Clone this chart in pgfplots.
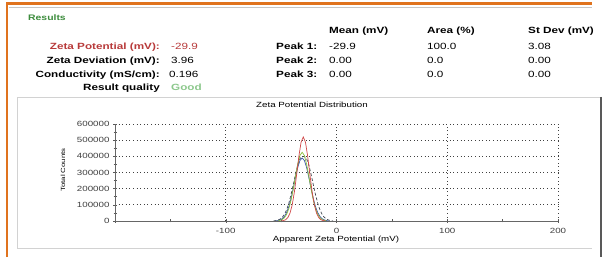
\documentclass[border=0pt]{standalone}
\usepackage{fontspec}
\setmainfont{Liberation Sans}[FakeStretch=1.3]
\usepackage{pgfplots}
\pgfplotsset{compat=1.18}
\definecolor{orng}{HTML}{E0731E}
\definecolor{resgreen}{HTML}{3C8C3C}
\definecolor{zred}{HTML}{B83A3A}
\definecolor{goodgreen}{HTML}{8CC88C}
\definecolor{cred}{HTML}{D04848}
\definecolor{cgreen}{HTML}{8CBE3C}
\definecolor{cblue}{HTML}{3A56A8}
\definecolor{cdark}{HTML}{404850}
\begin{document}
\begin{tikzpicture}[x=1pt,y=1pt]
\useasboundingbox (0,0) rectangle (613,257);
\fill[white] (0,0) rectangle (613,257);
% frame
\draw[orng, line width=2.6pt] (7,0) -- (7,253.5) -- (592,253.5);
\draw[gray!45, line width=0.9pt] (9,249.5) -- (592,249.5);
\draw[gray!35, line width=0.6pt] (17,9) -- (17,160) -- (601,160);
\draw[gray!35, line width=0.6pt] (17,9) -- (592,9);
\draw[gray!70!black, line width=1.1pt] (601,160) -- (601,0);
% header
\newcommand\hf{\fontsize{9}{11}\selectfont}
\node[anchor=base west, font=\fontsize{8}{10}\selectfont\bfseries, text=resgreen, inner sep=0] at (28,236.5) {Results};
\node[anchor=base west, font=\hf\bfseries, inner sep=0] at (329,223.5) {Mean (mV)};
\node[anchor=base west, font=\hf\bfseries, inner sep=0] at (427,223.5) {Area (\%)};
\node[anchor=base west, font=\hf\bfseries, inner sep=0] at (528,223.5) {St Dev (mV)};
\node[anchor=base east, font=\hf\bfseries, text=zred, inner sep=0] at (160,207.5) {Zeta Potential (mV):};
\node[anchor=base east, font=\hf\bfseries, inner sep=0] at (160,193) {Zeta Deviation (mV):};
\node[anchor=base east, font=\hf\bfseries, inner sep=0] at (160,179.5) {Conductivity (mS/cm):};
\node[anchor=base east, font=\hf\bfseries, inner sep=0] at (160,166.5) {Result quality};
\node[anchor=base west, font=\hf, text=zred, inner sep=0] at (171,207.5) {-29.9};
\node[anchor=base west, font=\hf, inner sep=0] at (171,193) {3.96};
\node[anchor=base west, font=\hf, inner sep=0] at (169,179.5) {0.196};
\node[anchor=base west, font=\hf\bfseries, text=goodgreen, inner sep=0] at (171,166.5) {Good};
\node[anchor=base west, font=\hf\bfseries, inner sep=0] at (276,207.5) {Peak 1:};
\node[anchor=base west, font=\hf\bfseries, inner sep=0] at (276,193) {Peak 2:};
\node[anchor=base west, font=\hf\bfseries, inner sep=0] at (276,179.5) {Peak 3:};
\node[anchor=base west, font=\hf, inner sep=0] at (329,207.5) {-29.9};
\node[anchor=base west, font=\hf, inner sep=0] at (329,193) {0.00};
\node[anchor=base west, font=\hf, inner sep=0] at (329,179.5) {0.00};
\node[anchor=base west, font=\hf, inner sep=0] at (427,207.5) {100.0};
\node[anchor=base west, font=\hf, inner sep=0] at (427,193) {0.0};
\node[anchor=base west, font=\hf, inner sep=0] at (427,179.5) {0.0};
\node[anchor=base west, font=\hf, inner sep=0] at (528,207.5) {3.08};
\node[anchor=base west, font=\hf, inner sep=0] at (528,193) {0.00};
\node[anchor=base west, font=\hf, inner sep=0] at (528,179.5) {0.00};
% chart texts
\node[font=\fontsize{7.5}{9}\selectfont, inner sep=0] at (312,152) {Zeta Potential Distribution};
\node[font=\fontsize{6}{7}\selectfont, inner sep=0, rotate=90] at (63,87) {Total Counts};
\node[font=\fontsize{7.5}{9}\selectfont, inner sep=0] at (336,17) {Apparent Zeta Potential (mV)};
\begin{axis}[
  at={(115pt,36pt)}, anchor=south west,
  scale only axis, width=443pt, height=97pt,
  xmin=-200, xmax=200, ymin=0, ymax=600000,
  axis lines=left, axis line style={-, black!60, line width=0.7pt},
  xtick={-200,-100,0,100,200}, xticklabels={,-100,0,100,200},
  ytick={0,100000,200000,300000,400000,500000,600000},
  minor x tick num=1, minor y tick num=1,
  scaled y ticks=false,
  yticklabel style={/pgf/number format/fixed, /pgf/number format/1000 sep={}},
  /pgf/number format/assume math mode=true,
  tick label style={font=\fontsize{7.5}{8}\selectfont, text=black!75},
  tick align=center, major tick length=4pt, minor tick length=3pt,
  tick style={black!65, line width=0.5pt},
  grid=major, major grid style={dash pattern=on 0.8pt off 2.8pt, black!75, line width=0.7pt},
  xticklabel shift=2pt,
]
\addplot[cdark, densely dashed, line width=0.7pt] coordinates {
(-57,0) (-55,2400) (-53,5400) (-51,11400) (-49,22400) (-47,41100) (-45,70000) (-43,111200) (-41,164400) (-39,226400) (-37,290400) (-35,346800) (-33,386000) (-31,400000) (-29,398000) (-27,386000) (-25,346800) (-23,290400) (-21,226400) (-19,164400) (-17,111200) (-15,70000) (-13,41100) (-11,22400) (-9,11400) (-7,5400) (-5,2400) (-3,0)};
\addplot[cblue, line width=0.7pt] coordinates {
(-55,0) (-53,2800) (-51,6600) (-49,14300) (-47,28600) (-45,52800) (-43,89700) (-41,140600) (-39,203000) (-37,270100) (-35,331200) (-33,374400) (-31,390000) (-29,374400) (-27,331200) (-25,270100) (-23,203000) (-21,140600) (-19,89700) (-17,52800) (-15,28600) (-13,14300) (-11,6600) (-9,2800) (-7,0)};
\addplot[cgreen, line width=0.7pt] coordinates {
(-53,0) (-51,3700) (-49,9200) (-47,20500) (-45,41800) (-43,77400) (-41,130200) (-39,199300) (-37,277600) (-35,351700) (-33,405400) (-31,425000) (-29,405400) (-27,351700) (-25,277600) (-23,199300) (-21,130200) (-19,77400) (-17,41800) (-15,20500) (-13,9200) (-11,3700) (-9,0)};
\addplot[cred, line width=0.7pt] coordinates {
(-50,0) (-48,2500) (-46,7600) (-44,20400) (-42,48100) (-40,99600) (-38,180500) (-36,286800) (-34,399200) (-32,486700) (-30,520000) (-28,486700) (-26,399200) (-24,286800) (-22,180500) (-20,99600) (-18,48100) (-16,20400) (-14,7600) (-12,2500) (-10,0)};
\end{axis}
\end{tikzpicture}
\end{document}
